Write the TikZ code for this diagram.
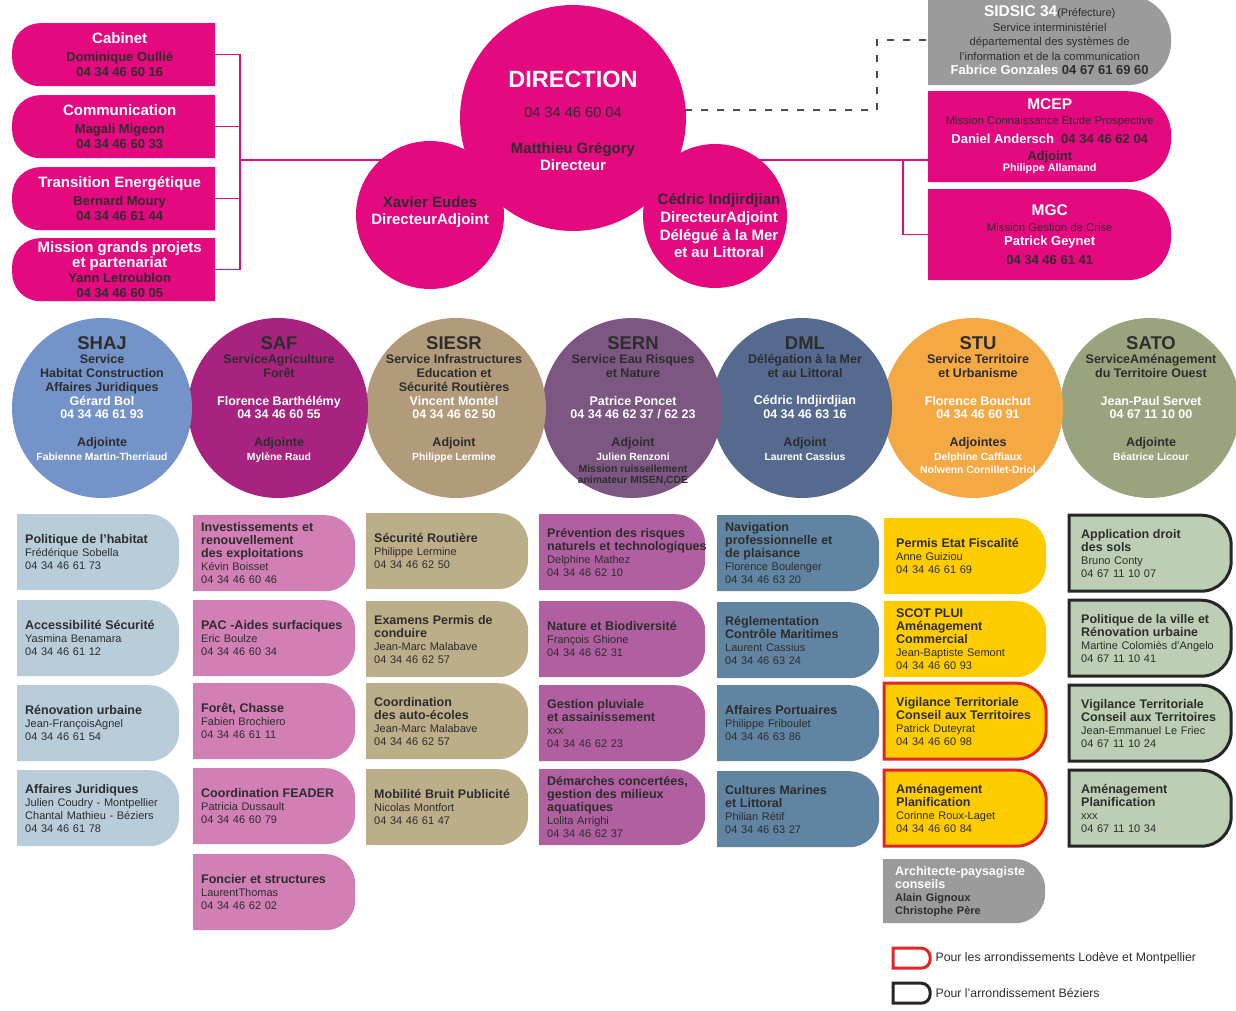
\documentclass[tikz,border=0pt]{standalone}
\usepackage{fontspec}
\setmainfont{Liberation Sans}
\usetikzlibrary{positioning,backgrounds}

\definecolor{dirpink}{HTML}{E5097F}
\definecolor{ink}{HTML}{2D2D2D}
\definecolor{shajc}{HTML}{7393C9}
\definecolor{safc}{HTML}{A8237F}
\definecolor{siesrc}{HTML}{B19B7A}
\definecolor{sernc}{HTML}{7C5782}
\definecolor{dmlc}{HTML}{566A90}
\definecolor{stuc}{HTML}{F5A944}
\definecolor{satoc}{HTML}{99A47F}
\definecolor{shajb}{HTML}{B8CCDA}
\definecolor{safb}{HTML}{D17FB5}
\definecolor{siesrb}{HTML}{BDAE8A}
\definecolor{sernb}{HTML}{B05FA1}
\definecolor{dmlb}{HTML}{6084A1}
\definecolor{stub}{HTML}{FFCC00}
\definecolor{satob}{HTML}{BCCFB5}
\definecolor{prefgray}{HTML}{9B9B9B}
\definecolor{lodred}{HTML}{E42528}
\definecolor{bezblack}{HTML}{262626}

\newcommand\fsz[2]{\fontsize{#1}{#2}\selectfont}
\newcommand\wh[1]{{\color{white}#1}}
\newcommand\ttl[1]{{\fsz{18.5}{20}#1}}
\newcommand\sml[1]{{\fsz{10.4}{12}#1}}
\newcommand\hd[1]{{\bfseries\fsz{12.5}{13}#1}}

\begin{document}
\begin{tikzpicture}[x=1pt,y=-1pt,
  tab r/.store in=\tabrad, tab r=30pt,
  tab line/.style={},
  rtab/.style={path picture={\path[fill=#1,tab line,rounded corners=\tabrad]
      ([yshift=-2pt]path picture bounding box.north)
      -- ([shift={(-2pt,-2pt)}]path picture bounding box.north east)
      -- ([shift={(-2pt,2pt)}]path picture bounding box.south east)
      -- ([yshift=2pt]path picture bounding box.south) [sharp corners]
      -- ([shift={(2pt,2pt)}]path picture bounding box.south west)
      -- ([shift={(2pt,-2pt)}]path picture bounding box.north west) -- cycle;}},
  ltab/.style={path picture={\path[fill=#1,rounded corners=\tabrad]
      ([yshift=-2pt]path picture bounding box.north)
      -- ([shift={(2pt,-2pt)}]path picture bounding box.north west)
      -- ([shift={(2pt,2pt)}]path picture bounding box.south west)
      -- ([yshift=2pt]path picture bounding box.south) [sharp corners]
      -- ([shift={(-14pt,2pt)}]path picture bounding box.south east)
      -- ([shift={(-14pt,-2pt)}]path picture bounding box.north east) -- cycle;}},
  cell/.style={rtab=#1, tab r=30pt, anchor=north west, inner xsep=10pt, inner ysep=2pt,
    minimum width=166pt, minimum height=80pt, text width=146pt, align=left, text=ink,
    font=\fsz{11}{13}},
  wide/.style={minimum width=170pt, text width=150pt},
  deep/.style={inner xsep=14pt, text width=138pt},
  lodeve/.style={tab line/.style={draw=lodred, line width=3pt}},
  beziers/.style={tab line/.style={draw=bezblack, line width=3pt}},
  lbox/.style={ltab=dirpink, tab r=28pt, anchor=north west, minimum width=219pt,
    minimum height=67pt, inner sep=0pt, align=center, text=ink, font=\bfseries\fsz{13}{15}},
  rbox/.style={rtab=#1, tab r=44pt, anchor=north west, minimum width=247pt,
    minimum height=95pt, inner sep=0pt, align=center, text=ink, font=\fsz{11.3}{14.5}},
  hub/.style={circle, fill=dirpink, inner sep=0pt},
  hubtxt/.style={inner sep=0pt, align=center, text=ink, font=\bfseries\fsz{15}{17.7}},
  svc/.style={circle, fill=#1, minimum size=180pt, inner sep=0pt},
  svctxt/.style={anchor=north, inner sep=0pt, align=center, text=ink,
    font=\bfseries\fsz{12.5}{13.8}},
  link/.style={draw=dirpink, line width=1.3pt},
  dotlink/.style={draw=ink!85, line width=1.4pt, dash pattern=on 7pt off 9pt},
  legtxt/.style={inner sep=0pt, text=ink, font=\fsz{12.3}{14}}]

\useasboundingbox (0,0) rectangle (1236,1011);

% direction
\node[hub, minimum size=226pt] (dir) at (573,118) {};
\node[hubtxt] (dir-t) at ([yshift=-3pt]dir.center) {\wh{\fsz{23.5}{24}DIRECTION}\\[12pt]
  {\mdseries\fsz{14.6}{17}04 34 46 60 04}\\[19pt]
  Matthieu Grégory\\[-1pt] \wh{Directeur}};
\node[hub, minimum size=148pt] (xav) at (430,215) {};
\node[hubtxt] (xav-t) at ([yshift=3pt]xav.center) {Xavier Eudes\\ \wh{DirecteurAdjoint}};
\node[hub, minimum size=144pt] (ced) at (715,216) {};
\node[hubtxt] (ced-t) at ([shift={(4pt,-10pt)}]ced.center) {Cédric Indjirdjian\\
  \wh{DirecteurAdjoint}\\ \wh{Délégué à la Mer}\\ \wh{et au Littoral}};

% left missions
\node[lbox] (cab) at (10,21) {\wh{\fsz{15}{17}Cabinet}\\[3pt] Dominique Oullié\\ 04 34 46 60 16};
\node[lbox] (com) at (10,93) {\wh{\fsz{15}{17}Communication}\\[3pt] Magali Migeon\\ 04 34 46 60 33};
\node[lbox] (tra) at (10,165) {\wh{\fsz{15}{17}Transition Energétique}\\[3pt] Bernard Moury\\ 04 34 46 61 44};
\node[lbox] (mgp) at (10,236) {\wh{\fsz{15}{17}Mission grands projets}\\ \wh{\fsz{15}{17}et partenariat}\\
  Yann Letroublon\\ 04 34 46 60 05};

% right missions
\node[rbox=prefgray, minimum height=94pt] (sidsic) at (926,-7) {{\bfseries\fsz{15.5}{17}\wh{SIDSIC 34}}{\fsz{11}{13}(Préfecture)}\\
  Service interministériel\\ départemental des systèmes de\\ l'information et de la communication\\
  {\bfseries\fsz{13}{15}\wh{Fabrice Gonzales} 04 67 61 69 60}};
\node[rbox=dirpink] (mcep) at (926,89) {{\bfseries\fsz{15.5}{17}\wh{MCEP}}\\
  Mission Connaissance Etude Prospective\\[5pt]
  {\bfseries\fsz{13}{15}\wh{Daniel Andersch}\ \ 04 34 46 62 04}\\[2pt]
  {\bfseries\fsz{13}{15}Adjoint}\\[-3pt]
  {\bfseries\fsz{10.8}{12}\wh{Philippe Allamand}}};
\node[rbox=dirpink] (mgc) at (926,187) {{\bfseries\fsz{15.5}{17}\wh{MGC}}\\[1pt]
  Mission Gestion de Crise\\
  {\bfseries\fsz{13}{15}\wh{Patrick Geynet}}\\[4pt]
  {\bfseries\fsz{13}{15}04 34 46 61 41}};

\coordinate (lbrk) at (240,160);
\coordinate (rbrk) at (903,160);
\coordinate (dbend) at (877,110);
\begin{scope}[on background layer]
  \draw[link] (cab.center) -| (lbrk);
  \draw[link] (com.center) -| (lbrk);
  \draw[link] (tra.center) -| (lbrk);
  \draw[link] (mgp.center) -| (lbrk);
  \draw[link] (lbrk) -- (rbrk);
  \draw[link] (rbrk) -- (rbrk -| mcep.center);
  \draw[link] (rbrk) |- (mgc.center);
  \draw[dotlink] (dir.center |- dbend) -- (dbend) |- (sidsic.center);
\end{scope}

% services
\node[svc=satoc] (sato) at (1150,408) {};
\node[svc=stuc] (stu) at (973,408) {};
\node[svc=dmlc] (dml) at (802,408) {};
\node[svc=sernc] (sern) at (632,408) {};
\node[svc=siesrc] (siesr) at (456,408) {};
\node[svc=safc] (saf) at (278,408) {};
\node[svc=shajc] (shaj) at (102,408) {};

\node[svctxt] (shaj-t) at ([yshift=-19pt]shaj.north) {\ttl{SHAJ}\\ Service\\ Habitat Construction\\
  Affaires Juridiques\\ \wh{Gérard Bol}\\ \wh{04 34 46 61 93}\\[13.8pt] Adjointe\\ \wh{\sml{Fabienne Martin-Therriaud}}};
\node[svctxt] (saf-t) at ([shift={(1pt,-19pt)}]saf.north) {\ttl{SAF}\\ ServiceAgriculture\\ Forêt\\[13.8pt]
  \wh{Florence Barthélémy}\\ \wh{04 34 46 60 55}\\[13.8pt] Adjointe\\ \wh{\sml{Mylène Raud}}};
\node[svctxt] (siesr-t) at ([shift={(-2pt,-19pt)}]siesr.north) {\ttl{SIESR}\\ Service Infrastructures\\ Education et\\
  Sécurité Routières\\ \wh{Vincent Montel}\\ \wh{04 34 46 62 50}\\[13.8pt] Adjoint\\ \wh{\sml{Philippe Lermine}}};
\node[svctxt] (sern-t) at ([shift={(1pt,-19pt)}]sern.north) {\ttl{SERN}\\ Service Eau Risques\\ et Nature\\[13.8pt]
  \wh{Patrice Poncet}\\ \wh{04 34 46 62 37 / 62 23}\\[13.8pt] Adjoint\\ \wh{\sml{Julien Renzoni}}\\[-2pt]
  \sml{Mission ruissellement}\\[-2pt] \sml{animateur MISEN,CDE}};
\node[svctxt] (dml-t) at ([shift={(3pt,-19pt)}]dml.north) {\ttl{DML}\\ Délégation à la Mer\\ et au Littoral\\[13.8pt]
  \wh{Cédric Indjirdjian}\\ \wh{04 34 46 63 16}\\[13.8pt] Adjoint\\ \wh{\sml{Laurent Cassius}}};
\node[svctxt] (stu-t) at ([shift={(5pt,-19pt)}]stu.north) {\ttl{STU}\\ Service Territoire\\ et Urbanisme\\[13.8pt]
  \wh{Florence Bouchut}\\ \wh{04 34 46 60 91}\\[13.8pt] Adjointes\\ \wh{\sml{Delphine Caffiaux}}\\[-1pt]
  \wh{\sml{Nolwenn Cornillet-Driol}}};
\node[svctxt] (sato-t) at ([shift={(1pt,-19pt)}]sato.north) {\ttl{SATO}\\ ServiceAménagement\\ du Territoire Ouest\\[13.8pt]
  \wh{Jean-Paul Servet}\\ \wh{04 67 11 10 00}\\[13.8pt] Adjointe\\ \wh{\sml{Béatrice Licour}}};

% units
\node[cell=shajb] (shaj1) at (15,512) {\hd{Politique de l’habitat}\\ Frédérique Sobella\\ 04 34 46 61 73};
\node[cell=shajb] (shaj2) at (15,598) {\hd{Accessibilité Sécurité}\\ Yasmina Benamara\\ 04 34 46 61 12};
\node[cell=shajb] (shaj3) at (15,683) {\hd{Rénovation urbaine}\\ Jean-FrançoisAgnel\\ 04 34 46 61 54};
\node[cell=shajb] (shaj4) at (15,768) {\hd{Affaires Juridiques}\\ Julien Coudry - Montpellier\\
  Chantal Mathieu - Béziers\\ 04 34 46 61 78};

\node[cell=safb] (saf1) at (191,513) {\hd{Investissements et\\ renouvellement\\ des exploitations}\\
  Kévin Boisset\\ 04 34 46 60 46};
\node[cell=safb] (saf2) at (191,598) {\hd{PAC -Aides surfaciques}\\ Eric Boulze\\ 04 34 46 60 34};
\node[cell=safb] (saf3) at (191,681) {\hd{Forêt, Chasse}\\ Fabien Brochiero\\ 04 34 46 61 11};
\node[cell=safb] (saf4) at (191,766) {\hd{Coordination FEADER}\\ Patricia Dussault\\ 04 34 46 60 79};
\node[cell=safb] (saf5) at (191,852) {\hd{Foncier et structures}\\ LaurentThomas\\ 04 34 46 62 02};

\node[cell=siesrb] (siesr1) at (364,511) {\hd{Sécurité Routière}\\ Philippe Lermine\\ 04 34 46 62 50};
\node[cell=siesrb] (siesr2) at (364,599) {\hd{Examens Permis de\\ conduire}\\ Jean-Marc Malabave\\ 04 34 46 62 57};
\node[cell=siesrb] (siesr3) at (364,681) {\hd{Coordination\\ des auto-écoles}\\ Jean-Marc Malabave\\ 04 34 46 62 57};
\node[cell=siesrb] (siesr4) at (364,767) {\hd{Mobilité Bruit Publicité}\\ Nicolas Montfort\\ 04 34 46 61 47};

\node[cell=sernb, wide] (sern1) at (537,512) {\hd{Prévention des risques\\ \mbox{naturels et technologiques}}\\
  Delphine Mathez\\ 04 34 46 62 10};
\node[cell=sernb, wide] (sern2) at (537,599) {\hd{Nature et Biodiversité}\\ François Ghione\\ 04 34 46 62 31};
\node[cell=sernb, wide] (sern3) at (537,683) {\hd{Gestion pluviale\\ et assainissement}\\ xxx\\ 04 34 46 62 23};
\node[cell=sernb, wide] (sern4) at (537,767) {\hd{Démarches concertées,\\ gestion des milieux\\ aquatiques}\\
  Lolita Arrighi\\ 04 34 46 62 37};

\node[cell=dmlb] (dml1) at (715,513) {\hd{Navigation\\ professionnelle et\\ de plaisance}\\
  Florence Boulenger\\ 04 34 46 63 20};
\node[cell=dmlb] (dml2) at (715,600) {\hd{Réglementation\\ Contrôle Maritimes}\\ Laurent Cassius\\ 04 34 46 63 24};
\node[cell=dmlb] (dml3) at (715,683) {\hd{Affaires Portuaires}\\ Philippe Friboulet\\ 04 34 46 63 86};
\node[cell=dmlb] (dml4) at (715,769) {\hd{Cultures Marines\\ et Littoral}\\ Philian Rétif\\ 04 34 46 63 27};

\node[cell=stub, deep] (stu1) at (882,516) {\hd{Permis Etat Fiscalité}\\ Anne Guiziou\\ 04 34 46 61 69};
\node[cell=stub, deep] (stu2) at (882,599) {\hd{SCOT PLUI\\ Aménagement\\ Commercial}\\
  Jean-Baptiste Semont\\ 04 34 46 60 93};
\node[cell=stub, deep, lodeve] (stu3) at (882,681) {\hd{Vigilance Territoriale\\ Conseil aux Territoires}\\
  Patrick Duteyrat\\ 04 34 46 60 98};
\node[cell=stub, deep, lodeve] (stu4) at (882,768) {\hd{Aménagement\\ Planification}\\
  Corinne Roux-Laget\\ 04 34 46 60 84};
\node[cell=prefgray, deep, minimum height=68pt] (stu5) at (881,857) {\hd{\wh{Architecte-paysagiste\\ conseils}}\\
  {\bfseries Alain Gignoux}\\ {\bfseries Christophe Père}};

\node[cell=satob, deep, beziers] (sato1) at (1067,513) {\hd{Application droit\\ des sols}\\ Bruno Conty\\ 04 67 11 10 07};
\node[cell=satob, deep, beziers] (sato2) at (1067,598) {\hd{Politique de la ville et\\ Rénovation urbaine}\\
  Martine Colomiès d’Angelo\\ 04 67 11 10 41};
\node[cell=satob, deep, beziers] (sato3) at (1067,683) {\hd{Vigilance Territoriale\\ Conseil aux Territoires}\\
  Jean-Emmanuel Le Friec\\ 04 67 11 10 24};
\node[cell=satob, deep, beziers] (sato4) at (1067,768) {\hd{Aménagement\\ Planification}\\ xxx\\ 04 67 11 10 34};

% legend
\node[rtab=white, lodeve, tab r=9pt, anchor=north west, minimum width=41pt, minimum height=24pt,
  inner sep=0pt] (leg1) at (891,946) {};
\node[legtxt, right=3pt of leg1] (leg1-t) {Pour les arrondissements Lodève et Montpellier};
\node[rtab=white, beziers, tab r=9pt, anchor=north west, minimum width=41pt, minimum height=24pt,
  inner sep=0pt] (leg2) at (891,981) {};
\node[legtxt, right=3pt of leg2] (leg2-t) {Pour l’arrondissement Béziers};
\end{tikzpicture}
\end{document}
